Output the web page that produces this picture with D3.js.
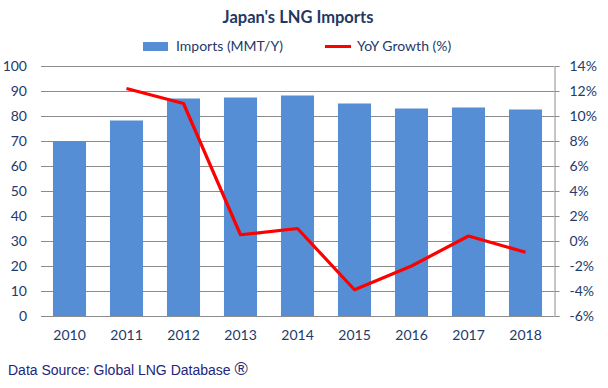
<!DOCTYPE html>
<html>
<head>
<meta charset="utf-8">
<script src="https://cdn.jsdelivr.net/npm/d3@7"></script>
<style>
  body { margin: 0; background: #fff; }
  svg { display: block; }
</style>
</head>
<body>
<div id="chart"></div>
<script>
// chart data
var years = ["2010", "2011", "2012", "2013", "2014", "2015", "2016", "2017", "2018"];
var imports = [70, 78.2, 87, 87.4, 88.2, 85, 83, 83.4, 82.6];
var yoyGrowth = [null, 12.2, 11.0, 0.5, 1.0, -3.9, -2.0, 0.4, -0.9];
var leftTicks = [0, 10, 20, 30, 40, 50, 60, 70, 80, 90, 100];
var rightTicks = [-6, -4, -2, 0, 2, 4, 6, 8, 10, 12, 14];

var width = 608, height = 388;
var margin = { top: 66, right: 54, bottom: 72, left: 41 };
var textColor = "#243a6b";
var calibri = "Lato, 'Open Sans', sans-serif";

var svg = d3.select("#chart").append("svg")
    .attr("width", width)
    .attr("height", height);

var x = d3.scaleBand()
    .domain(years)
    .range([margin.left, width - margin.right])
    .paddingInner(0.42)
    .paddingOuter(0.21);

var yLeft = d3.scaleLinear()
    .domain([0, 100])
    .range([height - margin.bottom, margin.top]);

var yRight = d3.scaleLinear()
    .domain([-6, 14])
    .range([height - margin.bottom, margin.top]);

/* gridlines */
svg.append("g").attr("class", "grid")
    .selectAll("line")
    .data(leftTicks)
    .enter().append("line")
    .attr("x1", margin.left)
    .attr("x2", width - margin.right)
    .attr("y1", function(d) { return Math.round(yLeft(d)) + 0.5; })
    .attr("y2", function(d) { return Math.round(yLeft(d)) + 0.5; })
    .attr("stroke", "#8c8c8c")
    .attr("stroke-width", 1);

/* bars */
svg.append("g").attr("class", "bars")
    .selectAll("rect")
    .data(imports)
    .enter().append("rect")
    .attr("x", function(d, i) { return x(years[i]); })
    .attr("width", x.bandwidth())
    .attr("y", function(d) { return yLeft(d); })
    .attr("height", function(d) { return yLeft(0) - yLeft(d); })
    .attr("fill", "#558ed5");

/* bottom axis line */
svg.append("line")
    .attr("x1", margin.left)
    .attr("x2", width - margin.right)
    .attr("y1", Math.round(yLeft(0)) + 0.5)
    .attr("y2", Math.round(yLeft(0)) + 0.5)
    .attr("stroke", "#8c8c8c");

/* left axis */
var leftAxis = svg.append("g")
    .attr("transform", "translate(" + (margin.left - 14) + ",0)")
    .call(d3.axisLeft(yLeft).tickValues(leftTicks).tickSize(0).tickPadding(0));
leftAxis.select(".domain").remove();
leftAxis.selectAll("text")
    .attr("fill", textColor)
    .style("font-family", calibri)
    .style("font-size", "14px");

/* right axis */
var rightAxis = svg.append("g")
    .attr("transform", "translate(" + (Math.round(width - margin.right) + 0.5) + ",0)")
    .call(d3.axisRight(yRight).tickValues(rightTicks).tickSize(5).tickPadding(10)
        .tickFormat(function(d) { return d + "%"; }));
rightAxis.select(".domain").attr("stroke", "#8c8c8c");
rightAxis.selectAll(".tick line").attr("stroke", "#8c8c8c");
rightAxis.selectAll("text")
    .attr("fill", textColor)
    .style("font-family", calibri)
    .style("font-size", "14px");

/* bottom axis labels */
var bottomAxis = svg.append("g")
    .attr("transform", "translate(0," + (height - margin.bottom + 14) + ")")
    .call(d3.axisBottom(x).tickSize(0).tickPadding(0));
bottomAxis.select(".domain").remove();
bottomAxis.selectAll("text")
    .attr("fill", textColor)
    .style("font-family", calibri)
    .style("font-size", "14px");

/* growth line */
var line = d3.line()
    .defined(function(d) { return d != null; })
    .x(function(d, i) { return x(years[i]) + x.bandwidth() / 2; })
    .y(function(d) { return yRight(d); });

svg.append("path")
    .datum(yoyGrowth)
    .attr("d", line)
    .attr("fill", "none")
    .attr("stroke", "#ff0000")
    .attr("stroke-width", 3.2)
    .attr("stroke-linejoin", "round");

/* title */
svg.append("text")
    .text("Japan's LNG Imports")
    .attr("x", 298)
    .attr("y", 23)
    .attr("text-anchor", "middle")
    .attr("fill", "#1f3864")
    .style("font-family", calibri)
    .style("font-size", "16.5px")
    .style("font-weight", "bold");

/* legend */
var legend = svg.append("g").attr("class", "legend");
legend.append("rect")
    .attr("x", 143).attr("y", 42)
    .attr("width", 25).attr("height", 9)
    .attr("fill", "#558ed5");
legend.append("text")
    .text("Imports (MMT/Y)")
    .attr("x", 176).attr("y", 51)
    .attr("fill", textColor)
    .style("font-family", calibri)
    .style("font-size", "14px");
legend.append("line")
    .attr("x1", 325).attr("x2", 351)
    .attr("y1", 46.5).attr("y2", 46.5)
    .attr("stroke", "#ff0000")
    .attr("stroke-width", 3);
legend.append("text")
    .text("YoY Growth (%)")
    .attr("x", 357).attr("y", 51)
    .attr("fill", textColor)
    .style("font-family", calibri)
    .style("font-size", "14px");

/* source note */
svg.append("text")
    .attr("x", 8)
    .attr("y", 375)
    .attr("fill", "#22267a")
    .style("font-family", "'Liberation Sans', Arial, sans-serif")
    .style("font-size", "14px")
    .text("Data Source: Global LNG Database ")
    .append("tspan")
    .text("\u00ae")
    .style("font-size", "18px");
</script>
</body>
</html>
